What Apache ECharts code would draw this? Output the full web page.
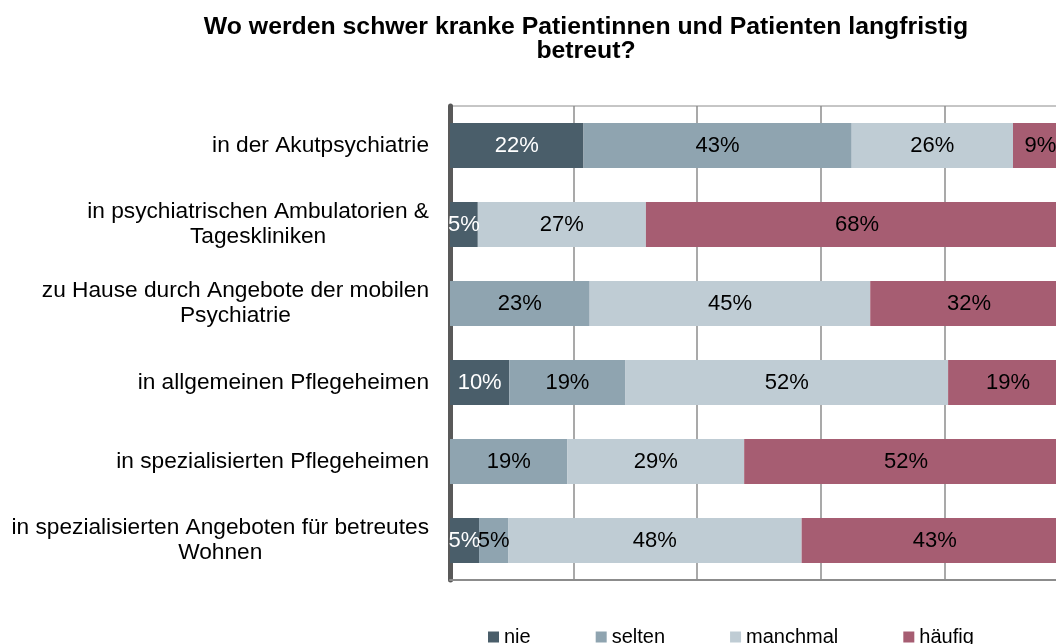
<!DOCTYPE html>
<html>
<head>
<meta charset="utf-8">
<title>Langfristige Betreuung</title>
<script src="https://cdn.jsdelivr.net/npm/echarts@6/dist/echarts.min.js"></script>
<style>
  html, body { margin: 0; padding: 0; background: #fff; overflow: hidden; }
  /* etwas breiter als das Fenster: die 100%-Kante liegt rechts ausserhalb */
  #main { width: 1072px; height: 644px; }
</style>
</head>
<body>
<div id="main"></div>
<script>
// Kategorien (von oben nach unten)
var categories = [
  'in der Akutpsychiatrie',
  'in psychiatrischen Ambulatorien &\nTageskliniken',
  'zu Hause durch Angebote der mobilen\nPsychiatrie',
  'in allgemeinen Pflegeheimen',
  'in spezialisierten Pflegeheimen',
  'in spezialisierten Angeboten für betreutes\nWohnen'
];
// Anteile in % (aus dem Bild geschätzt)
var nie      = [21.6, 4.5, 0, 9.6, 0, 4.7];
var selten   = [43.4, 0, 22.6, 18.8, 19.0, 4.7];
var manchmal = [26.1, 27.2, 45.4, 52.2, 28.6, 47.5];
var haeufig  = [8.9, 68.3, 32.0, 19.4, 52.4, 43.1];

var FONT = 'Liberation Sans, Arial, sans-serif';

var myChart = echarts.init(document.getElementById('main'));

/**Balken-Serie bauen**/
function makeSeries(name, data, color, labelColor) {
  return {
    name: name,
    type: 'bar',
    stack: 'total',
    barCategoryGap: '43%',
    data: data,
    itemStyle: { color: color },
    label: {
      show: true,
      position: 'inside',
      color: labelColor,
      fontFamily: FONT,
      fontSize: 22,
      formatter: function (p) {
        return p.value > 0 ? Math.round(p.value) + '%' : '';
      }
    }
  };
}

myChart.setOption({
  animation: false,
  title: {
    text: 'Wo werden schwer kranke Patientinnen und Patienten langfristig\nbetreut?',
    left: 581,
    top: 10,
    textAlign: 'center',
    textStyle: {
      fontFamily: FONT,
      fontSize: 24.8,
      fontWeight: 'bold',
      lineHeight: 24,
      color: '#000'
    }
  },
  legend: {
    left: 483,
    top: 622,
    icon: 'rect',
    itemWidth: 11,
    itemHeight: 11,
    itemGap: 65,
    textStyle: { fontFamily: FONT, fontSize: 20, color: '#000' },
    data: ['nie', 'selten', 'manchmal', 'häufig']
  },
  grid: {
    left: 450,
    right: 4,
    top: 106,
    bottom: 64,
    show: true,
    borderColor: '#8c8c8c',
    borderWidth: 1
  },
  xAxis: {
    type: 'value',
    min: 0,
    max: 100,
    interval: 20,
    axisLabel: { show: false },
    axisTick: { show: false },
    axisLine: { show: true, lineStyle: { color: '#8c8c8c', width: 2 } },
    splitLine: { lineStyle: { color: '#8c8c8c', width: 1.5 } }
  },
  yAxis: {
    type: 'category',
    inverse: true,
    data: categories,
    offset: 2,
    axisTick: { show: false },
    axisLine: { show: true, lineStyle: { color: '#595959', width: 5 } },
    axisLabel: {
      margin: 19,
      formatter: function (v) {
        return v.split('\n').map(function (l) { return '{c|' + l + '}'; }).join('\n');
      },
      rich: {
        c: { align: 'center', fontFamily: FONT, fontSize: 22.7, lineHeight: 25, color: '#000' }
      }
    }
  },
  series: [
    makeSeries('nie', nie, '#4a5e6a', '#fff'),
    makeSeries('selten', selten, '#8fa4b0', '#000'),
    makeSeries('manchmal', manchmal, '#bfccd4', '#000'),
    makeSeries('häufig', haeufig, '#a65d72', '#000')
  ]
});
</script>
</body>
</html>
